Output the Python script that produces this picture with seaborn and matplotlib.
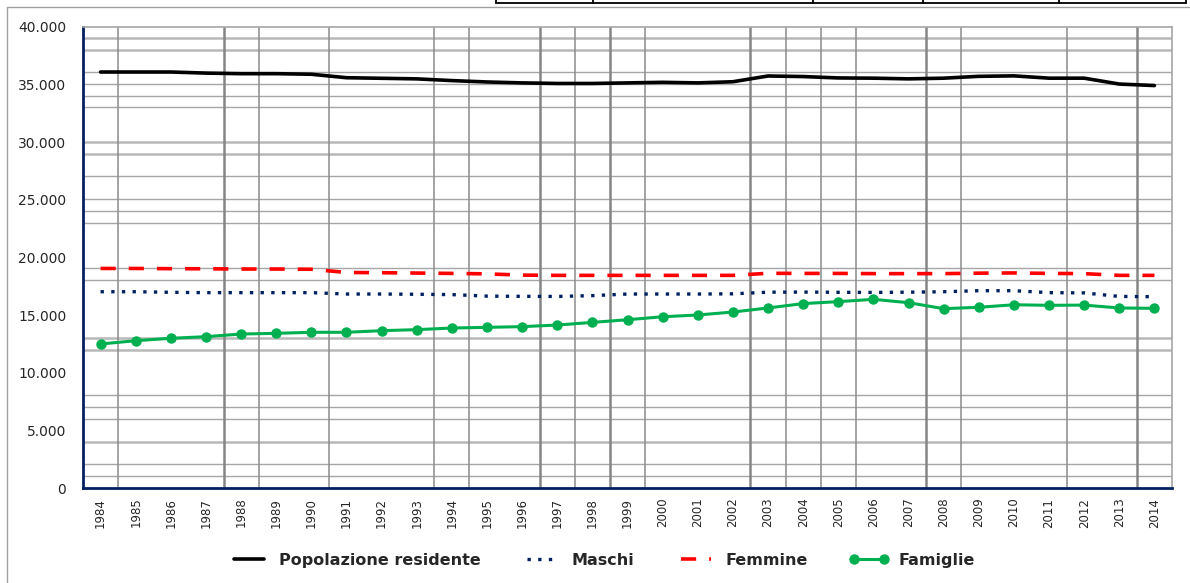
import matplotlib
matplotlib.use("Agg")
import matplotlib.pyplot as plt
from matplotlib.lines import Line2D
from matplotlib.ticker import FuncFormatter, MultipleLocator
import seaborn as sns
import pandas as pd

years = list(range(1984, 2015))
popolazione = [36095, 36095, 36095, 36000, 35950, 35950, 35900, 35600, 35550, 35500,
               35350, 35230, 35150, 35100, 35100, 35150, 35200, 35150, 35250, 35750,
               35700, 35580, 35560, 35500, 35560, 35720, 35760, 35560, 35560, 35050,
               34920]
maschi = [17030, 17030, 16980, 16950, 16950, 16950, 16950, 16830, 16830, 16810,
          16780, 16650, 16630, 16620, 16690, 16830, 16830, 16830, 16850, 16990,
          17000, 16980, 16970, 16990, 17030, 17120, 17120, 16950, 16930, 16620,
          16600]
femmine = [19050, 19050, 19030, 19020, 19000, 19000, 18980, 18700, 18680, 18650,
           18620, 18580, 18470, 18450, 18450, 18450, 18450, 18450, 18450, 18630,
           18620, 18620, 18600, 18600, 18600, 18640, 18660, 18620, 18600, 18450,
           18450]
famiglie = [12495, 12780, 12990, 13130, 13360, 13420, 13510, 13510, 13650, 13740,
            13880, 13940, 14000, 14140, 14370, 14600, 14860, 15010, 15270, 15620,
            16000, 16170, 16370, 16080, 15560, 15680, 15900, 15850, 15870, 15620,
            15590]

df = pd.DataFrame({"pos": range(len(years)), "anno": years,
                   "Popolazione residente": popolazione, "Maschi": maschi,
                   "Femmine": femmine, "Famiglie": famiglie})

# odd grid left over from the spreadsheet export
hgrid_thin = [36100, 35050, 34000, 33050, 27050, 25050, 24050, 23000, 19050,
              18050, 8050, 7050, 6000, 2100, 1050]
hgrid_thick = [39050, 38000, 30000, 29000, 13050, 12000, 4000]
vgrid_thin = [0.5, 4.5, 6.5, 9.5, 10.5, 13.5, 15.5, 19.5, 20.5, 21.5, 24.5, 27.5]
vgrid_thick = [3.5, 12.5, 14.5, 18.5, 23.5, 29.5]

sns.set_style("white")
plt.rcParams["font.family"] = ["DejaVu Sans"]

fig = plt.figure(figsize=(11.9, 5.83), dpi=100)
ax = fig.add_axes([83 / 1190, 1 - 488 / 583, (1172 - 83) / 1190, (488 - 27) / 583])

for v in hgrid_thin:
    ax.axhline(v, color="#a6a6a6", lw=1.0, zorder=0.5)
for v in hgrid_thick:
    ax.axhline(v, color="#b8b8b8", lw=1.8, zorder=0.5)
for v in vgrid_thin:
    ax.axvline(v, color="#8c8c8c", lw=1.1, zorder=0.5)
for v in vgrid_thick:
    ax.axvline(v, color="#858585", lw=1.8, zorder=0.5)

sns.lineplot(data=df, x="pos", y="Popolazione residente", ax=ax, color="black",
             lw=2.6, label="Popolazione residente")
sns.lineplot(data=df, x="pos", y="Maschi", ax=ax, color="#002060", lw=2.4,
             linestyle=(0, (1, 2.2)), label="Maschi")
sns.lineplot(data=df, x="pos", y="Femmine", ax=ax, color="#ff0000", lw=2.6,
             linestyle=(0, (4.2, 3.6)), label="Femmine")
sns.lineplot(data=df, x="pos", y="Famiglie", ax=ax, color="#00b050", lw=2.2,
             marker="o", markersize=7.5, markeredgewidth=0, label="Famiglie")

ax.set_xlim(-0.5, len(years) - 0.5)
ax.set_ylim(0, 40000)
ax.yaxis.set_major_locator(MultipleLocator(5000))
ax.yaxis.set_major_formatter(FuncFormatter(lambda v, p: f"{int(v):,}".replace(",", ".")))
ax.set_xticks(range(len(years)))
ax.set_xticklabels([str(y) for y in years], rotation=90)
ax.tick_params(axis="y", length=0, pad=12, labelsize=10)
ax.tick_params(axis="x", length=0, pad=7, labelsize=8.5)
ax.set_xlabel("")
ax.set_ylabel("")

for side in ["left", "bottom"]:
    ax.spines[side].set_color("#002060")
    ax.spines[side].set_linewidth(2)
for side in ["top", "right"]:
    ax.spines[side].set_color("#a6a6a6")
    ax.spines[side].set_linewidth(1.2)

ax.legend(loc="center", bbox_to_anchor=(0.506, 0.039), bbox_transform=fig.transFigure,
          ncol=4, frameon=False, numpoints=2, handlelength=2.5, handletextpad=0.6,
          columnspacing=2.6, prop={"weight": "bold", "size": 11.5})

# outer chart frame and the bit of table above it
fig.add_artist(Line2D([7 / 1190, 7 / 1190], [0, 1 - 7 / 583], color="#a0a0a0", lw=1))
fig.add_artist(Line2D([7 / 1190, 1], [1 - 7 / 583, 1 - 7 / 583], color="#a0a0a0", lw=1))
ytab = 1 - 3 / 583
fig.add_artist(Line2D([496 / 1190, 1186 / 1190], [ytab, ytab], color="black", lw=1.3))
for xt in [496, 593, 813, 923, 1059, 1186]:
    fig.add_artist(Line2D([xt / 1190, xt / 1190], [ytab, 1], color="black", lw=1.3))

fig.savefig("out.png", dpi=100)
